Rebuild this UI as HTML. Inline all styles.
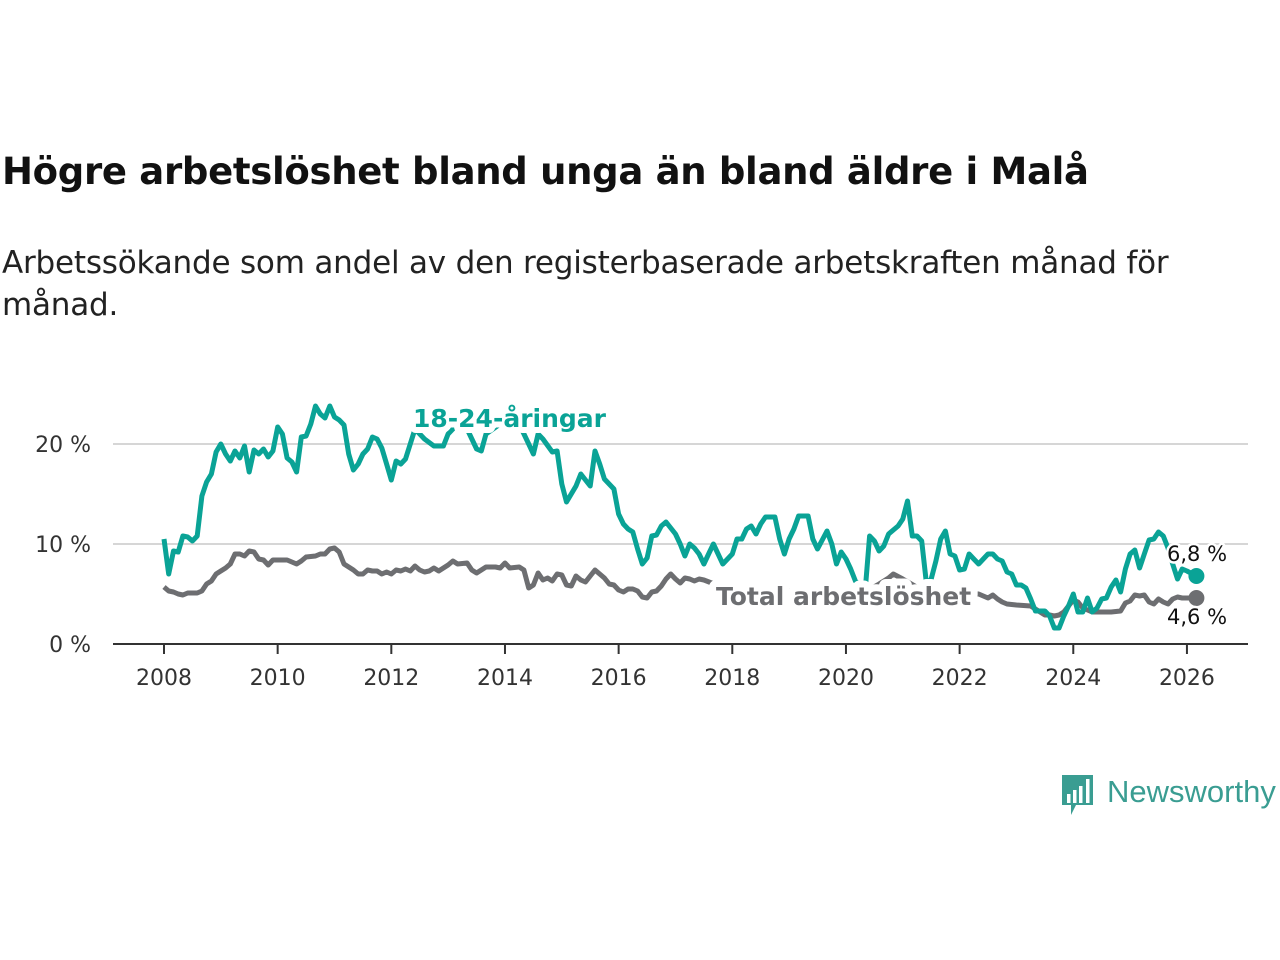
<!DOCTYPE html>
<html><head><meta charset="utf-8">
<style>
html,body{margin:0;padding:0;background:#fff;width:1280px;height:960px;overflow:hidden;font-family:"Liberation Sans","DejaVu Sans",sans-serif;}
#title{position:absolute;left:2px;top:150px;font-size:37px;font-weight:bold;color:#111;font-family:"DejaVu Sans","Liberation Sans",sans-serif;letter-spacing:-0.3px;white-space:nowrap}
#subtitle{position:absolute;left:2px;top:242px;font-size:31px;line-height:42px;color:#222;width:1200px;font-family:"DejaVu Sans","Liberation Sans",sans-serif;letter-spacing:-0.2px}
svg{position:absolute;left:0;top:0}
</style></head><body>
<div id="title">Högre arbetslöshet bland unga än bland äldre i Malå</div>
<div id="subtitle">Arbetssökande som andel av den registerbaserade arbetskraften månad för månad.</div>
<svg id="chart" width="1280" height="960"></svg>
<script>
const youthMonths=[
0,1,2,3,4,5,6,7,8,9,
10,11,12,13,14,15,16,17,18,19,
20,21,22,23,24,25,26,27,28,29,
30,31,32,33,34,35,36,37,38,39,
40,41,42,43,44,45,46,47,48,49,
50,51,53,55,57,59,60,62,64,66,
67,68,71,75,77,78,79,80,82,83,
84,85,87,88,89,90,91,92,93,95,
96,97,98,99,100,101,102,103,104,105,
106,108,109,110,111,112,113,114,115,116,
117,118,120,121,122,123,124,125,126,127,
128,129,130,131,132,133,134,135,136,137,
138,140,141,142,143,144,145,146,147,148,
149,150,151,152,153,155,156,157,158,159,
160,161,162,163,164,165,166,167,168,169,
170,171,172,173,174,175,176,177,178,179,
180,181,182,183,184,185,186,187,188,189,
190,191,192,193,194,195,196,197,198,199,
200,201,202,203,204,205,206,207,208,209,
210,211,212,213,214,215,216,218];
const youthValues=[
10.5,7.0,9.3,9.2,10.8,10.7,10.3,10.8,14.8,16.2,
17.0,19.2,20.0,19.0,18.3,19.3,18.6,19.8,17.2,19.4,
19.0,19.5,18.7,19.3,21.7,21.0,18.6,18.2,17.2,20.7,
20.8,22.0,23.8,23.0,22.6,23.8,22.7,22.4,21.9,19.0,
17.4,18.0,19.0,19.5,20.7,20.5,19.6,18.0,16.4,18.3,
18.0,18.5,21.5,20.5,19.8,19.8,21.0,22.0,21.5,19.5,
19.3,21.0,22.0,22.0,20.0,19.0,21.0,20.5,19.2,19.3,
16.0,14.2,15.8,17.0,16.4,15.8,19.3,18.0,16.5,15.5,
13.0,12.0,11.5,11.2,9.5,8.0,8.6,10.8,10.9,11.8,
12.2,11.0,10.0,8.8,10.0,9.6,9.0,8.0,9.0,10.0,
9.0,8.0,9.0,10.5,10.5,11.5,11.8,11.0,12.0,12.7,
12.7,12.7,10.5,9.0,10.5,11.5,12.8,12.8,12.8,10.5,
9.5,11.3,10.0,8.0,9.2,8.5,7.5,6.3,5.8,5.0,
10.8,10.3,9.3,9.8,11.0,11.8,12.5,14.3,10.8,10.8,
10.3,6.0,6.5,8.3,10.5,11.3,9.0,8.8,7.4,7.5,
9.0,8.5,8.0,8.5,9.0,9.0,8.5,8.3,7.2,7.0,
5.9,5.9,5.6,4.5,3.3,3.3,3.3,2.8,1.6,1.6,
2.8,3.8,5.0,3.2,3.2,4.6,3.2,3.6,4.5,4.6,
5.7,6.4,5.2,7.5,9.0,9.4,7.6,9.0,10.4,10.5,
11.2,10.8,9.6,8.0,6.5,7.5,7.3,6.8];
const totalMonths=[0,1,2,3,4,5,7,8,9,10,11,12,13,14,15,16,17,18,19,20,21,22,23,24,26,27,28,29,30,32,33,34,35,36,37,38,40,41,42,43,44,45,46,47,48,49,50,51,52,53,54,55,56,57,58,60,61,62,64,65,66,67,68,70,71,72,73,75,76,77,78,79,80,81,82,83,84,85,86,87,88,89,90,91,92,93,94,95,96,97,98,99,100,101,102,103,104,105,106,107,108,109,110,111,112,113,114,120,126,132,138,144,148,151,153,154,156,160,166,172,174,175,176,177,178,180,183,185,186,187,188,189,190,191,192,193,194,195,196,198,200,202,203,204,205,206,207,208,209,210,211,212,213,214,215,218];
const totalValues=[5.7,5.3,5.2,5.0,4.9,5.1,5.1,5.3,6.0,6.3,7.0,7.3,7.6,8.0,9.0,9.0,8.8,9.3,9.2,8.5,8.4,7.9,8.4,8.4,8.4,8.2,8.0,8.3,8.7,8.8,9.0,9.0,9.5,9.6,9.2,8.0,7.4,7.0,7.0,7.4,7.3,7.3,7.0,7.2,7.0,7.4,7.3,7.5,7.3,7.8,7.4,7.2,7.3,7.6,7.3,7.9,8.3,8.0,8.1,7.4,7.1,7.4,7.7,7.7,7.6,8.1,7.6,7.7,7.4,5.6,5.9,7.1,6.4,6.6,6.3,7.0,6.9,5.9,5.8,6.8,6.4,6.2,6.8,7.4,7.0,6.6,6.0,5.9,5.4,5.2,5.5,5.5,5.3,4.7,4.6,5.2,5.3,5.8,6.5,7.0,6.5,6.1,6.6,6.5,6.3,6.5,6.4,5.3,5.2,5.3,5.4,5.3,5.2,6.0,6.6,7.0,6.5,5.4,5.2,5.0,4.6,4.9,4.5,4.2,4.0,3.9,3.8,3.2,2.9,2.9,2.8,2.9,3.2,3.8,4.4,4.2,3.6,3.4,3.2,3.2,3.2,3.3,4.1,4.3,4.9,4.8,4.9,4.2,4.0,4.5,4.2,4.0,4.5,4.7,4.6,4.6];
const xTicks=[2008,2010,2012,2014,2016,2018,2020,2022,2024,2026];
const yTicks=[0,10,20];
const yTickLabels=["0 %","10 %","20 %"];

const NS="http://www.w3.org/2000/svg";
const svg=document.getElementById('chart');
const x0=164,pxPerYear=56.83;
function xScale(year){return x0+(year-2008)*pxPerYear;}
function xMonth(m){return xScale(2008+m/12);}
function yScale(v){return 644-v*10;}
function mk(tag,attrs,parent){const e=document.createElementNS(NS,tag);for(const k in attrs)e.setAttribute(k,attrs[k]);(parent||svg).appendChild(e);return e;}
const FONT='"Liberation Sans","DejaVu Sans",sans-serif';
const DFONT='"DejaVu Sans","Liberation Sans",sans-serif';

yTicks.forEach((t,i)=>{
  if(t>0){const g=mk('line',{x1:113,x2:1248,y1:yScale(t),y2:yScale(t),stroke:'#d6d6d6','stroke-width':2});
  
  }
  const tx=mk('text',{x:91,y:yScale(t)+8,'text-anchor':'end','font-size':22,fill:'#333','font-family':DFONT});
  tx.textContent=yTickLabels[i];
  
  
});
const ax=mk('line',{x1:113,x2:1248,y1:644,y2:644,stroke:'#333','stroke-width':2});


xTicks.forEach(t=>{
  const tk=mk('line',{x1:xScale(t),x2:xScale(t),y1:644,y2:654,stroke:'#333','stroke-width':2});
  
  
  const tx=mk('text',{x:xScale(t),y:685,'text-anchor':'middle','font-size':22,fill:'#333','font-family':DFONT});
  tx.textContent=t;
  
  
});
function path(ms,vs){return ms.map((m,i)=>(i?'L':'M')+xMonth(m).toFixed(1)+','+yScale(vs[i]).toFixed(1)).join('');}
const tl=mk('path',{d:path(totalMonths,totalValues),fill:'none',stroke:'#6d6e71','stroke-width':5,'stroke-linejoin':'round'});


const yl=mk('path',{d:path(youthMonths,youthValues),fill:'none',stroke:'#0aa396','stroke-width':5,'stroke-linejoin':'round'});



function label(txt,x,y,col,size,bold,name,halo){
  const t=mk('text',{x:x,y:y,'font-size':size,'font-weight':bold?'bold':'normal',fill:col,stroke:'#fff','stroke-width':halo,'paint-order':'stroke','stroke-linejoin':'round','font-family':DFONT});
  t.textContent=txt;
  
  
}
label('18-24-åringar',413,427,'#0aa396',25,true,'youth-series-label',12);
label('Total arbetslöshet',716,605,'#6d6e71',25,true,'total-series-label',14);
const ly=youthMonths.length-1, lt=totalMonths.length-1;
const d1=mk('circle',{cx:xMonth(youthMonths[ly]),cy:yScale(youthValues[ly]),r:8,fill:'#0aa396'});


const d2=mk('circle',{cx:xMonth(totalMonths[lt]),cy:yScale(totalValues[lt]),r:8,fill:'#6d6e71'});


label(String(youthValues[ly]).replace('.',',')+' %',1167,561,'#111',21,false,'youth-end-value',5);
label(String(totalValues[lt]).replace('.',',')+' %',1167,624,'#111',21,false,'total-end-value',5);

// logo
const lg=mk('g',{});


mk('path',{d:'M1062,775 h31 v30 h-17 l-5,10 v-10 h-9 z',fill:'#3a9d92'},lg);
[[1067,794],[1073,790],[1079,786],[1086,779]].forEach(b=>mk('rect',{x:b[0],y:b[1],width:3.5,height:803-b[1],fill:'#fff'},lg));
const lt2=mk('text',{x:1107,y:802,'font-size':31,fill:'#3a9d92','font-family':FONT},lg);
lt2.textContent='Newsworthy';
</script>
</body></html>
